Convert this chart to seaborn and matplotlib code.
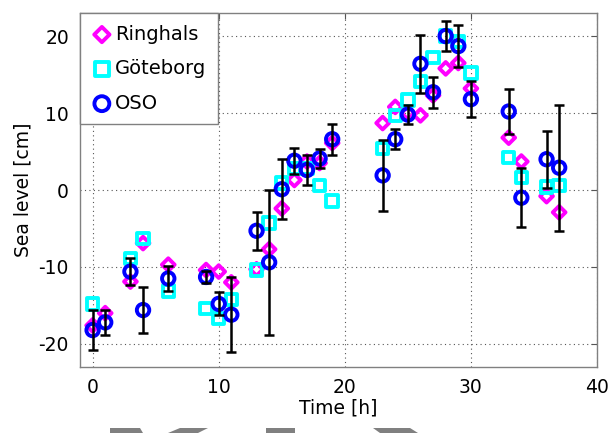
import numpy as np
import pandas as pd
import matplotlib
matplotlib.use("Agg")
import matplotlib.pyplot as plt
from matplotlib.patches import Polygon
import seaborn as sns

# ---- Data ----
time_h = [0, 1, 3, 4, 6, 9, 10, 11, 13, 14, 15, 16, 17, 18, 19,
          23, 24, 25, 26, 27, 28, 29, 30, 33, 34, 36, 37]

ringhals = [-17.6, -16.0, -11.9, -6.9, -9.7, -10.4, -10.6, -12.0, -10.3, -7.7, -2.4, 1.3, 3.7, 3.5, 6.1,
            8.7, 10.8, 10.0, 9.7, 12.3, 15.8, 16.5, 13.2, 6.8, 3.7, -0.8, -2.9]

goteborg = [-14.8, np.nan, -8.9, -6.3, -13.1, -15.4, -16.7, -14.2, -10.4, -4.3, 0.9, 2.8, 2.8, 0.6, -1.4,
            5.4, 9.7, 11.7, 14.1, 17.2, 20.0, 19.3, 15.2, 4.2, 1.6, 0.4, 0.6]

oso = [-18.2, -17.2, -10.6, -15.6, -11.5, -11.3, -14.8, -16.2, -5.3, -9.4, 0.1, 3.8, 2.6, 4.1, 6.6,
       1.9, 6.6, 9.8, 16.4, 12.7, 20.0, 18.7, 11.8, 10.2, -1.0, 4.0, 2.9]

oso_err = [2.6, 1.6, 1.8, 3.0, 1.6, 0.8, 1.5, 4.9, 2.5, 9.4, 3.9, 1.7, 1.9, 1.2, 2.0,
           4.6, 1.3, 1.2, 3.8, 2.0, 1.9, 2.7, 2.3, 2.9, 3.8, 3.7, 8.2]

df = pd.DataFrame({"Time [h]": time_h, "Ringhals": ringhals,
                   "Göteborg": goteborg, "OSO": oso, "err": oso_err})

# ---- Style ----
sns.set_style("white")
plt.rcParams["font.family"] = ["DejaVu Sans"]
plt.rcParams["axes.unicode_minus"] = False
plt.rcParams["text.color"] = "black"
plt.rcParams["axes.labelcolor"] = "black"

fig = plt.figure(figsize=(6.11, 4.33), dpi=100)
ax = fig.add_axes([80 / 611, 1 - 367 / 433, 517 / 611, 354 / 433])

series = [("Ringhals", "D", "#ff00ff", 42),
          ("Göteborg", "s", "#00ffff", 68),
          ("OSO", "o", "#0000ff", 80)]

for name, marker, color, size in series:
    sns.scatterplot(data=df, x="Time [h]", y=name, ax=ax, marker=marker, s=size,
                    facecolors="none", edgecolor=color, linewidth=2.8,
                    label=name, zorder=3)

ax.errorbar(df["Time [h]"], df["OSO"], yerr=df["err"], fmt="none", ecolor="black",
            elinewidth=1.8, capsize=3.8, capthick=1.8, zorder=4)

ax.set_xlim(-1, 40)
ax.set_ylim(-23, 23)
ax.set_xticks([0, 10, 20, 30, 40])
ax.set_yticks([-20, -10, 0, 10, 20])
ax.set_xlabel("Time [h]", fontsize=13.5, labelpad=1, color="black")
ax.set_ylabel("Sea level [cm]", fontsize=13.5, labelpad=4, color="black")
ax.grid(True, linestyle=(0, (1, 3)), color="#555555", linewidth=0.8)
ax.tick_params(direction="in", length=4, top=True, right=True, labelsize=13.5,
               color="#555555", labelcolor="black", pad=8)
for sp in ax.spines.values():
    sp.set_color("#808080")
    sp.set_linewidth(1.0)

leg = ax.legend(loc="upper left", borderaxespad=0, fancybox=False, framealpha=1,
                edgecolor="#808080", fontsize=14, handletextpad=0.15,
                handlelength=1.05, borderpad=0.6, labelspacing=0.8, markerscale=1.2)
leg.get_frame().set_linewidth(1.0)
for t in leg.get_texts():
    t.set_color("black")

# grey slide decorations cut off at the bottom edge
shapes = [
    [(110, 428), (140, 428), (143, 433), (110, 433)],
    [(180, 428), (208, 428), (198, 433), (168, 433)],
    [(266, 428), (295, 428), (295, 433), (266, 433)],
    [(373, 428), (410, 428), (418, 433), (380, 433)],
]
for pts in shapes:
    fig.add_artist(Polygon([(x / 611, 1 - y / 433) for x, y in pts], closed=True,
                           transform=fig.transFigure, color="#808080", lw=0))

fig.savefig("out.png", dpi=100)
